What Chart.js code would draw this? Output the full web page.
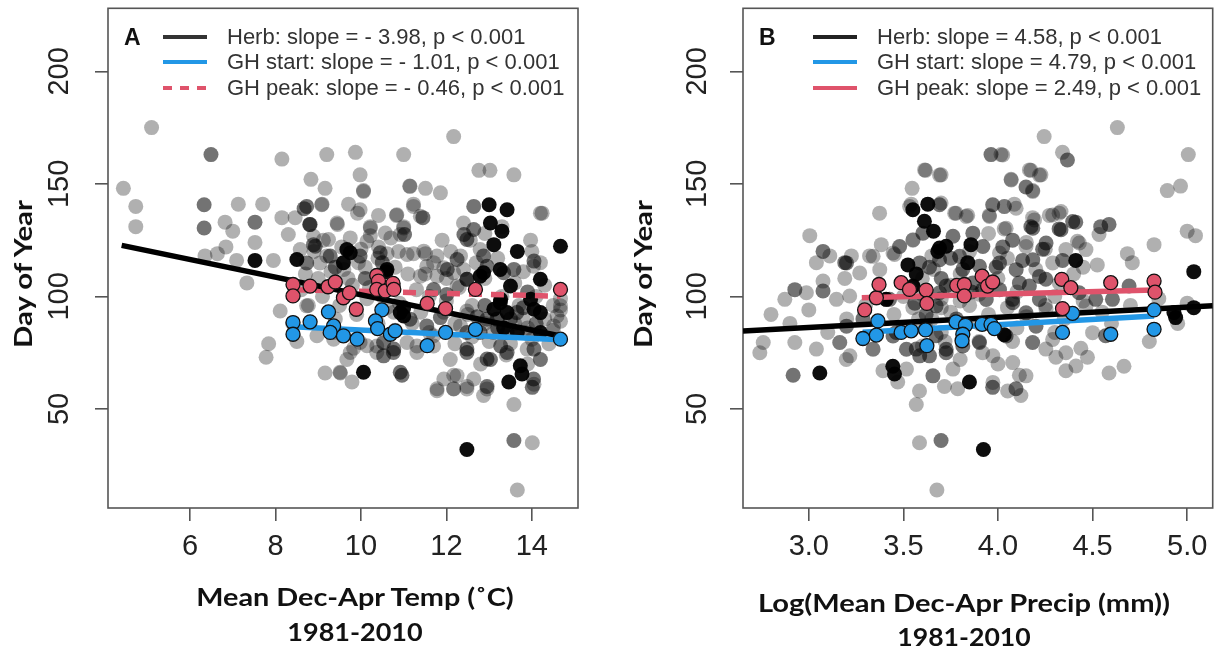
<!DOCTYPE html>
<html>
<head>
<meta charset="utf-8">
<script src="https://cdn.jsdelivr.net/npm/chart.js@4.4.1/dist/chart.umd.min.js"></script>
<style>
  body { margin: 0; background: #fff; }
  #wrap { position: relative; width: 1221px; height: 652px; overflow: hidden; }
  canvas { position: absolute; top: 0; }
  .leg { position: absolute; font-family: "Liberation Sans", Arial, sans-serif; font-size: 22px; color: #333; line-height: 26px; white-space: nowrap; }
  .tag { position: absolute; font-family: "Liberation Sans", Arial, sans-serif; font-weight: bold; font-size: 23px; color: #111; line-height: 26px; }
  .sw { position: absolute; height: 4px; }
  .ttl { position: absolute; font-family: Lato, "Open Sans", sans-serif; font-weight: bold; font-size: 24px; color: #111; line-height: 30px; white-space: nowrap; }
</style>
</head>
<body>
<div id="wrap">
  <canvas id="chartA" width="610" height="652" style="left:0"></canvas>
  <canvas id="chartB" width="611" height="652" style="left:610px"></canvas>

  <div class="tag" style="left:124px;top:24px">A</div>
  <div class="sw" style="left:163px;top:35px;width:44px;background:#333"></div>
  <div class="sw" style="left:163px;top:60px;width:44px;background:#2297E6"></div>
  <div class="sw" style="left:163px;top:86px;width:44px;background:repeating-linear-gradient(to right,#DF536B 0 9px,transparent 9px 17px)"></div>
  <div class="leg" style="left:227px;top:24px">Herb: slope = - 3.98, p &lt; 0.001</div>
  <div class="leg" style="left:227px;top:49px">GH start: slope = - 1.01, p &lt; 0.001</div>
  <div class="leg" style="left:227px;top:75px">GH peak: slope = - 0.46, p &lt; 0.001</div>

  <div class="tag" style="left:759px;top:24px">B</div>
  <div class="sw" style="left:813px;top:35px;width:44px;background:#222"></div>
  <div class="sw" style="left:813px;top:60px;width:44px;background:#2297E6"></div>
  <div class="sw" style="left:813px;top:86px;width:44px;background:#DF536B"></div>
  <div class="leg" style="left:877px;top:24px">Herb: slope = 4.58, p &lt; 0.001</div>
  <div class="leg" style="left:877px;top:49px">GH start: slope = 4.79, p &lt; 0.001</div>
  <div class="leg" style="left:877px;top:75px">GH peak: slope = 2.49, p &lt; 0.001</div>

  <div class="ttl" data-cx="355" data-cy="597" data-w="317">Mean Dec-Apr Temp (˚C)</div>
  <div class="ttl" data-cx="355" data-cy="632" data-w="135">1981-2010</div>
  <div class="ttl" data-cx="964" data-cy="603" data-w="412">Log(Mean Dec-Apr Precip (mm))</div>
  <div class="ttl" data-cx="964" data-cy="637" data-w="133">1981-2010</div>
  <div class="ttl" data-cx="23" data-cy="274" data-w="148" data-rot="1">Day of Year</div>
  <div class="ttl" data-cx="643" data-cy="274" data-w="148" data-rot="1">Day of Year</div>
</div>
<script>
// axes
const yTicks = [50, 100, 150, 200];
const xTicksA = [6, 8, 10, 12, 14];
const xTicksB = [3.0, 3.5, 4.0, 4.5, 5.0];

// panel A: mean Dec-Apr temperature
const herbA = [
  [5.1,175],[4.44,148],[4.73,140],[4.73,131],[8.15,161],[9.2,163],[9.87,164],[11.0,163],[12.17,171],[8.83,152],
  [9.16,148],[9.98,154],[10.06,147],[11.14,149],[11.51,148],[11.86,146],[12.76,156],[13.02,156],[13.58,154],[14.24,137],
  [7.13,141],[7.7,141],[6.82,133],[7.0,129],[7.52,124],[6.84,122],[6.64,119],[6.35,118],[7.09,116],[7.33,106],
  [8.15,135],[8.46,135],[8.3,127.5],[7.95,116],[9.09,141],[9.71,141],[9.92,137],[9.45,132],[10.41,136],[10.22,131],
  [10.83,136],[11.23,141],[11.0,131],[9.12,125],[9.55,122],[9.94,115],[10.22,127],[10.41,122],[10.61,119],[10.88,120],
  [11.23,119],[11.51,119],[11.7,115],[13.97,125],[12.56,125],[12.33,118],[14.67,94],[14.67,99],[8.11,93.5],[8.77,96],
  [10.14,99],[7.84,79],[7.78,73],[9.16,66],[9.52,66],[9.79,62],[9.83,77],[9.67,72],[11.31,78],[11.78,59],
  [12.17,59],[12.48,60],[12.09,72],[12.17,65],[12.87,56],[13.58,52],[14.05,61],[14.01,35],[13.66,14],[14.67,89],
  [11.7,78],[10.77,93],[9.36,84],[9.98,79.5],[10.37,78],[11.94,93],[8.7,110],[9.0,108],[9.3,111],[9.8,105],
  [10.2,104],[10.5,100],[10.9,97],[11.3,103],[11.6,100],[12.0,98],[12.3,104],[12.6,96],[12.9,88],[13.2,90],
  [13.6,88],[13.9,86],[14.3,90],[14.5,96],[9.5,96],[9.9,92],[10.4,88],[10.8,85],[11.2,88],[11.6,84],
  [12.2,88],[12.6,82],[13.0,80],[13.5,79],[14.0,81],[14.4,79],[9.2,118],[9.6,112],[10.0,121],[10.4,117],
  [10.8,113],[11.5,110],[12.1,120],[12.7,115],[13.2,117],[13.8,111],[14.3,105],[9.1,100],[9.7,108],[10.6,95],
  [11.1,110],[12.4,112],[12.9,108],[13.3,100],[13.7,96],[14.1,100],[13.1,84],[13.4,74],[13.9,70],[12.8,70],
  [12.5,92],[13.6,106],[14.2,115],[11.4,93],[10.1,113],[9.4,90],[8.9,120],[8.6,103],[12.0,108],[12.2,79],
  [13.8,90],[14.5,85],[11.9,125],[10.7,126],[13.3,131],[12.9,128],[14.0,120],[8.4,88],[8.5,80],
  [10.06,146.6],[11.15,148.9],[9.08,140.7],[9.98,138.5],[10.84,136.3],[11.23,140],[11.39,135.6],[11.0,130.4],[9.44,132.6],[10.22,130.4],
  [10.57,128.2],[10.92,127.5],[10.14,124.5],[9.75,126],[9.24,125.3],[11.08,118.6],[11.47,120.1],[11.78,117.9],[11.94,112.7],[11.54,113.4],
  [14.2,137],[12.4,132.6],[12.79,120.8],[14.04,113.4],[12.48,93.5],[12.33,86.9],[13.89,84],[14.51,86.9],[14.67,95.8],[14.59,91.3],
  [13.89,76.6],[11.94,63.3],[12.25,64.8],[12.64,63.3],[11.78,58.1],[12.17,58.9],[12.48,58.9],[12.95,58.9],[9.51,66.3],[10.14,78.1],
  [11.08,79.5],[11.31,75.1],[11.7,82.5],[12.25,104.6],[12.17,110.5],[11.39,109],[11.78,109],[8.73,95.8],[8.97,82.5],[9.36,81],
  [10.37,75.1],[9.75,75.1],[9.04,114.9],[8.89,126.7],[8.58,120.8]
];
const herbADark = [
  [6.49,163],[6.33,140.7],[6.33,130.4],[7.52,133],[8.67,139],[8.8,132],[8.89,123],[11.45,135],[11.02,127.5],[12.02,112],
  [12.41,127.5],[12.64,140],[12.87,118],[13.34,110.5],[14.05,115.7],[12.48,107.6],[10.96,65],[10.53,73.6],[10.77,76.6],[12.95,60],
  [14.01,59.6],[14.2,72],[13.58,36],[13.03,72],[12.48,76.6],[13.27,78],[14.05,76.6],[12.48,84],[12.72,91],
  [8.73,140],[8.81,131.9],[8.93,122.3],[9.98,117.9],[10.45,119.4],[12.25,116.4],[12.48,125.3],[12.64,129.7],[12.95,113.4],[13.58,112],
  [13.65,92.8],[13.18,89.9],[12.95,89.9],[12.79,84],[13.42,84],[12.48,75.1],[12.95,72.2],[13.42,75.1],[14.04,63.3],[10.92,66.3],
  [10.76,75.1],[10.53,79.5],[11.54,86.9],[11.15,89.9],[11.86,90.6],[12.01,100.9],[12.48,107.6],[11.7,103.1],[10.76,104.6],[8.73,114.9],
  [9.28,117.9],[13.5,90],[13.8,95],[14.1,88],[13.2,86],[13.9,102],[12.9,96],[10.1,108],[10.5,115],[9.4,113]
];
const herbABlack = [
  [7.52,116],[8.5,116.4],[9.75,119.4],[9.59,115],[10.59,111],[13.0,140.7],[13.42,138.5],[13.03,132.6],[13.3,129],[13.11,123],
  [13.66,120],[14.67,122.3],[12.87,110.5],[13.5,104.6],[14.2,107.6],[13.27,98.7],[13.97,98.7],[14.05,94.3],[11.0,95],[13.11,94.3],
  [10.06,66.3],[13.73,69.2],[13.77,65.5],[13.46,62],[12.48,32],[13.34,86],[13.66,84],[14.2,84],[14.2,92.8],[13.42,92.8],[11.0,91.3],
  [9.67,120.8],[10.61,112],[13.26,112],[12.79,109],[13.26,97.2],[10.92,92.8]
];
const peakA = [
  [8.41,105.3],[8.41,100.2],[8.81,104.6],[9.23,104.3],[9.4,106.4],[9.59,99.4],[9.73,101.6],[9.89,94.3],[10.37,109.3],
  [10.41,106.8],[10.37,103.1],[10.57,102.4],[10.75,105.8],[10.77,103.1],[11.55,96.9],[11.98,94.6],[12.68,103.1],[14.67,103.1]
];
const startA = [
  [8.41,88.4],[8.41,83.2],[8.81,88.7],[9.24,93.1],[9.36,86.9],[9.28,84],[9.59,82.5],[9.91,81],[10.49,94],
  [10.34,89.1],[10.39,85.7],[10.69,83.2],[10.8,84.7],[11.55,78.1],[11.98,84],[12.68,85.4],[14.67,81]
];
const herbFitA = [[4.4,122.7],[14.67,82.4]];
const startFitA = [[8.41,86.5],[14.67,80.7]];
const peakFitA = [[8.41,103.0],[14.67,100.1]];

// panel B: log mean Dec-Apr precipitation
const herbB = [
  [4.631,175],[4.244,171],[4.016,163],[4.341,164],[5.006,163],[3.617,156],[3.699,154],[3.546,148],[4.069,152],[4.174,156],
  [4.227,154],[4.183,147],[4.895,147],[4.965,149],[3.374,137],[3.541,141],[3.699,141.5],[3.778,137],[3.84,136],[4.033,140],
  [4.086,141],[3.954,136],[4.033,130],[4.183,135],[4.271,136],[4.323,137],[4.534,127.5],[4.42,124.5],[4.684,119],[4.71,115],
  [4.825,123],[5.0,129],[5.044,127],[4.525,114],[3.005,127],[3.04,115],[3.111,118],[3.225,118],[3.19,108],[3.321,118],
  [3.383,123],[3.453,118.6],[2.873,98.7],[2.987,101.6],[3.075,106.8],[3.146,98.7],[3.216,100.2],[2.741,75],[2.759,79.5],[2.926,79.5],
  [3.04,76.6],[3.198,72],[3.163,79.5],[3.392,67],[3.47,62],[3.585,58],[3.568,52],[3.717,60],[3.787,59],[4.051,58],
  [4.113,65],[4.121,56],[3.585,35],[3.677,14],[4.359,67],[4.587,66],[4.666,69],[4.306,73],[4.438,77],[4.473,73],
  [4.253,76.6],[4.077,80],[3.339,76.6],[3.919,75],[3.45,92],[3.55,95],[3.65,90],[3.75,93],[3.85,96],[3.95,92],
  [4.05,95],[4.15,91],[4.25,96],[4.35,90],[4.45,98],[4.55,93],[4.7,96],[4.85,99],[5.0,97],[3.5,100],
  [3.7,99],[3.9,101],[4.1,102],[4.3,100],[3.6,108],[3.8,110],[4.0,108],[4.2,112],[4.4,110],[3.5,86],
  [3.7,84],[3.9,80],[4.1,86],[4.3,84],[3.6,78],[3.8,72],[4.0,70],[3.3,96],[3.2,90],[3.0,94],
  [2.9,88],[3.1,84],[2.8,92],[4.6,88],[4.8,80],[4.95,88],[3.65,118],[3.85,120],[4.05,117],[4.25,121],
  [4.45,113],[3.55,125],[3.95,128],[4.15,124],[3.6,101],[3.7,95],[3.75,105],[3.66,112],[3.58,90],[3.8,98],
  [3.62,86],[3.9,88],[3.72,80],
  [4.025,162.8],[3.612,156.2],[3.691,153.9],[4.07,151.7],[4.166,156.2],[4.219,153.9],[4.184,146.6],[3.533,139.9],[3.771,137],[3.832,135.5],
  [4.034,139.9],[4.096,139.2],[3.955,135.5],[4.043,130.3],[4.193,134],[4.289,136.2],[4.333,137.7],[4.43,123.7],[3.551,125.2],[4.008,119.3],
  [4.148,122.2],[4.359,120.8],[4.465,120.8],[3.34,117.8],[3.445,119.3],[3.269,110.4],[3.375,111.9],[4.289,114.9],[4.324,106],[4.254,94.2],
  [4.465,95.7],[4.5,83.9],[4.289,80.9],[3.34,76.5],[3.217,73.6],[3.164,79.5],[3.516,67.7],[3.762,67.7],[3.973,73.6],[4.078,70.6],
  [4.148,64.7],[3.973,61.8],[4.359,75.0],[4.412,69.1]
];
const herbBDark = [
  [3.963,163],[4.367,160.6],[4.148,148.6],[3.972,140.7],[4.077,125],[4.174,131],[4.323,130],[4.411,133],[4.543,131],[4.587,132],
  [3.075,120],[3.19,115],[2.926,103],[3.075,102.4],[2.917,65],[3.972,59.6],[4.095,59],[3.699,36],[4.183,79.5],[4.569,82.5],
  [3.638,73.6],[3.726,75],[3.814,78],[3.568,76.6],[3.286,90],[3.462,84],[3.673,82.5],[3.638,113],[3.814,112],[3.726,104.6],
  [3.55,104.6],[3.427,98.7],[3.673,95.8],[3.919,103],[4.077,98.7],[4.166,104.6],[4.253,107.6],[4.341,116],[4.429,101.6],[4.517,98.7],
  [4.605,98.7],[4.693,104.6],[4.13,116],[3.99,113],[4.236,121],[4.025,122],
  [3.691,140.7],[4.184,130.3],[4.333,129.6],[4.395,133.3],[3.603,128.1],[3.48,122.2],[3.762,126.7],[3.867,128.1],[3.92,122.2],[4.254,123.7],
  [3.199,114.9],[3.586,114.9],[3.691,116.3],[3.797,117.8],[3.902,113.4],[4.008,114.9],[4.096,111.9],[4.184,116.3],[4.219,108.9],[4.113,106],
  [4.008,103],[3.867,106],[3.691,101.6],[3.41,98.6],[4.219,98.6],[4.078,97.2],[3.938,98.6],[4.148,92.7],[4.043,82.4],[4.201,86.8],
  [3.902,79.5],[3.726,76.5],[3.586,73.6],[3.516,76.5],[3.445,82.4],[3.199,86.8],[3.656,64.7],
  [3.62,92],[3.78,90],[3.7,108],[3.86,102],[3.56,97],[3.75,117]
];
const herbBBlack = [
  [3.55,138.5],[3.629,141],[3.611,133.4],[3.659,129],[3.682,120],[3.726,122.3],[3.857,123],[3.84,115],[3.524,114],[3.568,110],
  [4.411,116],[5.035,111],[5.035,95],[4.93,92.8],[3.058,66],[3.444,69],[3.453,65.5],[3.849,62],[3.923,32],[4.033,83],
  [4.939,90.6],[3.409,98.7],[3.551,104.5],[3.691,121.5]
];
const peakB = [
  [3.295,94],[3.357,99.4],[3.371,105.3],[3.488,106.1],[3.532,103.1],[3.62,102.8],[3.624,96.9],[3.782,104.9],[3.822,105.3],[3.822,100.2],
  [3.916,109],[3.945,104.6],[3.972,106.4],[4.337,107.6],[4.385,103.9],[4.596,106.1],[4.825,106.8],[4.83,101.9],[4.341,94.6]
];
const startB = [
  [3.365,89.1],[3.286,81.3],[3.357,82.8],[3.488,84],[3.541,84.7],[3.617,85.1],[3.624,78.1],[3.778,88.7],[3.828,87.2],[3.814,83.2],
  [3.81,80.3],[3.916,87.6],[3.963,87.6],[3.981,85.7],[4.341,84],[4.394,92.5],[4.596,83.2],[4.825,94],[4.825,85.4]
];
const herbFitB = [[2.652,84.6],[5.135,95.9]];
const startFitB = [[3.285,84.1],[4.825,91.3]];
const peakFitB = [[3.28,99.4],[4.825,102.8]];

const RED = '#DF536B';
const BLUE = '#2297E6';

// axis titles: centre them and stretch to the width they have in the figure
document.querySelectorAll('.ttl').forEach(el => {
  const s = el.dataset.w / el.offsetWidth;
  el.style.left = el.dataset.cx + 'px';
  el.style.top = el.dataset.cy + 'px';
  el.style.transform = 'translate(-50%,-50%)' + (el.dataset.rot ? ' rotate(-90deg)' : '') + ' scaleX(' + s + ')';
});

const pts = arr => arr.map(p => ({x: p[0], y: p[1]}));

const frame = {
  id: 'frame',
  beforeDatasetsDraw(chart) {
    const a = chart.chartArea;
    const c = chart.ctx;
    c.save();
    c.strokeStyle = '#555';
    c.lineWidth = 1.6;
    c.strokeRect(a.left, a.top, a.right - a.left, a.bottom - a.top);
    c.restore();
  }
};

function cloud(data, color, order) {
  return { data: pts(data), backgroundColor: color, borderWidth: 0, pointRadius: 7.5, order: order };
}
function gh(data, color) {
  return { data: pts(data), backgroundColor: color, borderColor: '#111', borderWidth: 1.3, pointRadius: 7, order: 0 };
}
function fit(data, color, dash) {
  return { data: pts(data), showLine: true, borderColor: color, borderWidth: 5.5, borderDash: dash || [],
           pointRadius: 0, fill: false, order: 1 };
}

function makePanel(id, d, xMin, xMax, xTicks, pad, yPad) {
  new Chart(document.getElementById(id), {
    type: 'scatter',
    data: {
      datasets: [
        gh(d.peak, RED), gh(d.start, BLUE),
        fit(d.herbFit, '#000'), fit(d.startFit, BLUE), fit(d.peakFit, RED, d.dash),
        cloud(d.black, 'rgba(0,0,0,0.95)', 2),
        cloud(d.dark, 'rgba(0,0,0,0.55)', 3),
        cloud(d.herb, 'rgba(0,0,0,0.31)', 4)
      ]
    },
    options: {
      responsive: false,
      animation: false,
      layout: { padding: pad },
      plugins: { legend: { display: false }, tooltip: { enabled: false } },
      scales: {
        x: {
          type: 'linear', min: xMin, max: xMax,
          afterFit: s => { s.height = 60; s.paddingLeft = 0; s.paddingRight = 0; },
          afterBuildTicks: s => { s.ticks = xTicks.map(v => ({value: v})); },
          border: { display: false },
          grid: { drawOnChartArea: false, drawTicks: true, tickLength: 13, color: '#555', lineWidth: 1.6 },
          ticks: { color: '#222', padding: 9, font: { family: '"Liberation Sans", Arial, sans-serif', size: 29 },
                   callback: v => xTicks === xTicksB ? Number(v).toFixed(1) : String(v) }
        },
        y: {
          type: 'linear', min: 6, max: 228,
          afterFit: s => { s.width = 60; s.paddingTop = 0; s.paddingBottom = 0; },
          afterBuildTicks: s => { s.ticks = yTicks.map(v => ({value: v})); },
          border: { display: false },
          grid: { drawOnChartArea: false, drawTicks: true, tickLength: 13, color: '#555', lineWidth: 1.6 },
          ticks: { color: '#222', padding: yPad, minRotation: 90, maxRotation: 90, crossAlign: 'center',
                   font: { family: '"Liberation Sans", Arial, sans-serif', size: 29 } }
        }
      }
    },
    plugins: [frame]
  });
}

makePanel('chartA', {
  herb: herbA, dark: herbADark, black: herbABlack, peak: peakA, start: startA,
  herbFit: herbFitA, startFit: startFitA, peakFit: peakFitA, dash: [13, 9]
}, 4.08, 15.08, xTicksA, { left: 48, top: 8, right: 32, bottom: 84 }, 11);

makePanel('chartB', {
  herb: herbB, dark: herbBDark, black: herbBBlack, peak: peakB, start: startB,
  herbFit: herbFitB, startFit: startFitB, peakFit: peakFitB
}, 2.652, 5.135, xTicksB, { left: 73, top: 8, right: 7, bottom: 84 }, 8);
</script>
</body>
</html>
